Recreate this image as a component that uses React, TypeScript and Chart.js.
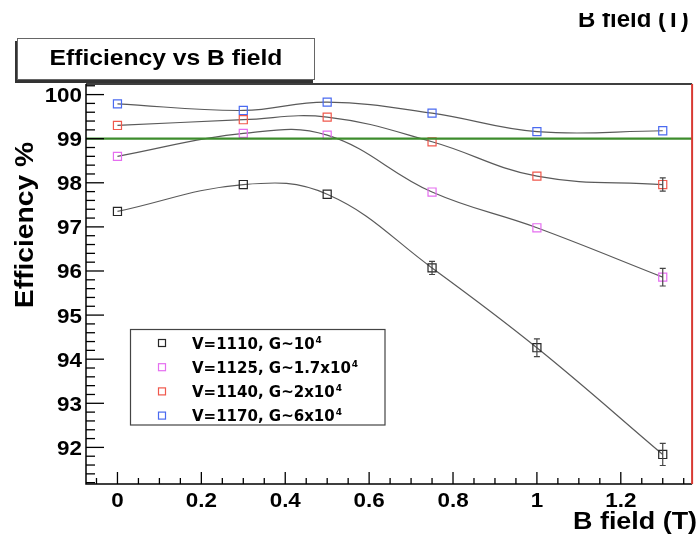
import React, { useEffect, useRef } from "react";
import { Chart, registerables } from "chart.js";
Chart.register(...registerables);

// ---- data ----
const bField = [0, 0.3, 0.5, 0.75, 1, 1.3];
const eff1110 = [97.35, 97.96, 97.74, 96.07, 94.26, 91.84];
const eff1125 = [98.6, 99.12, 99.08, 97.79, 96.98, 95.86];
const eff1140 = [99.3, 99.43, 99.49, 98.93, 98.15, 97.96];
const eff1170 = [99.79, 99.64, 99.83, 99.58, 99.16, 99.18];
const err1110 = [0.04, 0.04, 0.04, 0.15, 0.2, 0.25];
const err1125 = [0.04, 0.04, 0.04, 0.08, 0.08, 0.2];
const err1140 = [0.04, 0.04, 0.04, 0.06, 0.06, 0.15];
const err1170 = [0.03, 0.03, 0.03, 0.04, 0.05, 0.05];
const seriesLabels = ["V=1110, G~10⁴", "V=1125, G~1.7x10⁴", "V=1140, G~2x10⁴", "V=1170, G~6x10⁴"];
const seriesColors = ["#262626", "#e56ef0", "#f0584c", "#4a6af0"];
const xTickLabels = ["0", "0.2", "0.4", "0.6", "0.8", "1", "1.2"];
const yTickLabels = ["92", "93", "94", "95", "96", "97", "98", "99", "100"];
const thresholdEff = 99;
const chartTitle = "Efficiency vs B field";
const xTitle = "B field (T)";
const yTitle = "Efficiency %";
const xRange = [-0.075, 1.37];
const yRange = [91.17, 100.24];

const effSeries = [eff1110, eff1125, eff1140, eff1170];
const errSeries = [err1110, err1125, err1140, err1170];

const SANS = '"Liberation Sans", Arial, Helvetica, sans-serif';
const DEJA = '"DejaVu Sans", sans-serif';

function txt(ctx: CanvasRenderingContext2D, s: string, x: number, y: number, font: string,
  align: CanvasTextAlign, sx = 1, rot = 0, baseline: CanvasTextBaseline = "alphabetic") {
  ctx.save();
  ctx.translate(x, y);
  if (rot) ctx.rotate(rot);
  ctx.scale(sx, 1);
  ctx.font = font;
  ctx.textAlign = align;
  ctx.textBaseline = baseline;
  ctx.fillStyle = "#000";
  ctx.fillText(s, 0, 0);
  ctx.restore();
}

const decorPlugin = {
  id: "rootDecor",
  beforeDraw(chart: any) {
    const ctx = chart.ctx;
    ctx.save();
    ctx.fillStyle = "#fff";
    ctx.fillRect(0, 0, chart.width, chart.height);
    ctx.restore();
  },
  afterDatasetsDraw(chart: any) {
    const ctx: CanvasRenderingContext2D = chart.ctx;
    const xs = chart.scales.x, ys = chart.scales.y;
    const a = chart.chartArea;
    // error bars
    ctx.save();
    ctx.strokeStyle = "#444";
    ctx.lineWidth = 1.2;
    errSeries.forEach((errs, si) => {
      errs.forEach((e, i) => {
        const px = xs.getPixelForValue(bField[i]);
        const top = ys.getPixelForValue(effSeries[si][i] + e);
        const bot = ys.getPixelForValue(effSeries[si][i] - e);
        if (bot - top < 9) return;
        ctx.beginPath();
        ctx.moveTo(px, top); ctx.lineTo(px, bot);
        ctx.moveTo(px - 3, top); ctx.lineTo(px + 3, top);
        ctx.moveTo(px - 3, bot); ctx.lineTo(px + 3, bot);
        ctx.stroke();
      });
    });
    // threshold line
    const gy = ys.getPixelForValue(thresholdEff);
    ctx.strokeStyle = "#3d8c2c";
    ctx.lineWidth = 2.2;
    ctx.beginPath();
    ctx.moveTo(a.left, gy); ctx.lineTo(a.right, gy);
    ctx.stroke();
    ctx.restore();
  },
  afterDraw(chart: any) {
    const ctx: CanvasRenderingContext2D = chart.ctx;
    const xs = chart.scales.x, ys = chart.scales.y;
    const a = chart.chartArea;
    ctx.save();
    // frame
    ctx.strokeStyle = "#000";
    ctx.lineWidth = 1.5;
    ctx.beginPath();
    ctx.moveTo(a.left, a.top); ctx.lineTo(a.right, a.top);
    ctx.moveTo(a.left, a.top); ctx.lineTo(a.left, a.bottom); ctx.lineTo(a.right, a.bottom);
    ctx.stroke();
    ctx.strokeStyle = "#d83a32";
    ctx.lineWidth = 2;
    ctx.beginPath();
    ctx.moveTo(a.right, a.top); ctx.lineTo(a.right, a.bottom);
    ctx.stroke();

    // x ticks
    ctx.strokeStyle = "#000";
    ctx.lineWidth = 1.3;
    const xMajors = xTickLabels.map(Number);
    for (let k = -2; k <= 28; k++) {
      const v = k * 0.05;
      if (v < xRange[0] || v > xRange[1]) continue;
      const px = xs.getPixelForValue(v);
      const major = k % 4 === 0;
      ctx.beginPath();
      ctx.moveTo(px, a.bottom); ctx.lineTo(px, a.bottom - (major ? 12 : 6));
      ctx.stroke();
    }
    xMajors.forEach((v, i) => {
      txt(ctx, xTickLabels[i], xs.getPixelForValue(v), 507, `bold 20px ${SANS}`, "center", 1.12);
    });
    // y ticks
    const yMajors = yTickLabels.map(Number);
    for (let k = 456; k <= 501; k++) {
      const v = k * 0.2;
      if (v < yRange[0] || v > yRange[1]) continue;
      const py = ys.getPixelForValue(v);
      const major = k % 5 === 0;
      ctx.beginPath();
      ctx.moveTo(a.left, py); ctx.lineTo(a.left + (major ? 18 : 9), py);
      ctx.stroke();
    }
    yMajors.forEach((v, i) => {
      txt(ctx, yTickLabels[i], 82, ys.getPixelForValue(v) + 7.5, `bold 20px ${SANS}`, "right", 1.12);
    });

    // axis titles
    txt(ctx, xTitle, 697, 529, `bold 24px ${SANS}`, "right", 1.12);
    txt(ctx, yTitle, 33, 225, `bold 25px ${SANS}`, "center", 1.13, -Math.PI / 2);
    // clipped duplicate axis title at top right
    ctx.save();
    ctx.beginPath();
    ctx.rect(0, 13, chart.width, 40);
    ctx.clip();
    txt(ctx, xTitle, 578, 27, `bold 24px ${SANS}`, "left", 1.0);
    ctx.restore();

    // title box with shadow
    ctx.fillStyle = "#333";
    ctx.fillRect(15, 41, 298, 42);
    ctx.fillStyle = "#fff";
    ctx.fillRect(17, 38, 298, 42);
    ctx.strokeStyle = "#666";
    ctx.lineWidth = 1;
    ctx.strokeRect(17.5, 38.5, 297, 41);
    txt(ctx, chartTitle, 166, 65, `bold 22px ${SANS}`, "center", 1.12);

    // legend
    ctx.fillStyle = "#fff";
    ctx.fillRect(130, 329, 255, 96);
    ctx.strokeStyle = "#444";
    ctx.lineWidth = 1.2;
    ctx.strokeRect(130.5, 329.5, 254.5, 95.5);
    seriesLabels.forEach((lab, i) => {
      const ry = 343 + i * 24.2;
      ctx.strokeStyle = seriesColors[i];
      ctx.lineWidth = 1.2;
      ctx.strokeRect(158.5, ry - 3.5, 7, 7);
      const parts = lab.split("⁴");
      const base = parts[0];
      txt(ctx, base, 192, ry + 5.5, `bold 15px ${DEJA}`, "left");
      ctx.font = `bold 15px ${DEJA}`;
      const w = ctx.measureText(base).width;
      if (lab.includes("⁴")) txt(ctx, "4", 192 + w + 1, ry - 0.5, `bold 9px ${DEJA}`, "left");
    });
    ctx.restore();
  },
};

export default function App() {
  const ref = useRef<HTMLCanvasElement>(null);
  useEffect(() => {
    if (!ref.current) return;
    const chart = new Chart(ref.current, {
      type: "line",
      data: {
        datasets: effSeries.map((ys, si) => ({
          label: seriesLabels[si],
          data: bField.map((x, i) => ({ x, y: ys[i] })),
          borderColor: "#5a5a5a",
          borderWidth: 1.2,
          tension: 0.4,
          fill: false,
          pointStyle: "rect",
          pointRadius: 5.7,
          pointBorderWidth: 1.2,
          pointBorderColor: seriesColors[si],
          pointBackgroundColor: "rgba(0,0,0,0)",
        })),
      },
      options: {
        animation: false,
        responsive: true,
        maintainAspectRatio: false,
        layout: { padding: { left: 86, right: 2, top: 84, bottom: 53 } },
        plugins: { legend: { display: false }, tooltip: { enabled: false }, title: { display: false } },
        scales: {
          x: { type: "linear", display: false, min: xRange[0], max: xRange[1] },
          y: { type: "linear", display: false, min: yRange[0], max: yRange[1] },
        },
      },
      plugins: [decorPlugin],
    });
    return () => chart.destroy();
  }, []);
  return (
    <div style={{ position: "absolute", left: 0, top: 0, width: 699, height: 537 }}>
      <canvas ref={ref} />
    </div>
  );
}
